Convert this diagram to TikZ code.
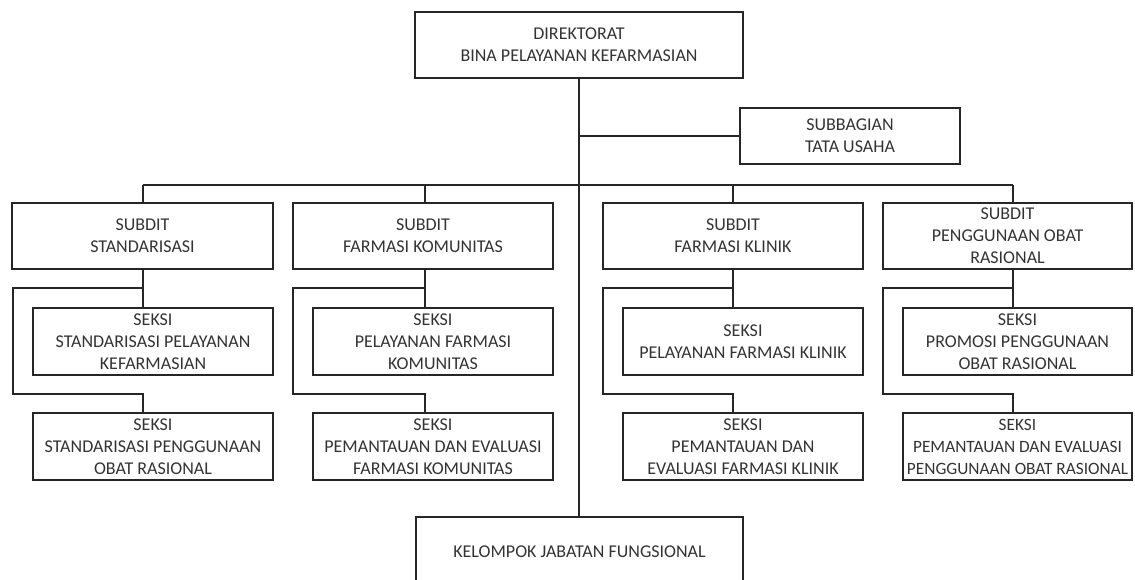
\documentclass[tikz,border=0pt]{standalone}
\usepackage{fontspec}
\setmainfont{Carlito}
\begin{document}
\begin{tikzpicture}[x=1pt,y=-1pt,
  box/.style={draw=black!85,line width=1.3pt,rectangle,inner sep=0pt,align=center,
    text=black!80,font=\fontsize{18}{22}\selectfont},
  conn/.style={draw=black!85,line width=1.3pt}]
\useasboundingbox (0,0) rectangle (1135,579);
\clip (0,0) rectangle (1135,579);
% top
\node[box,minimum width=328pt,minimum height=66pt] (dir) at (579,45) {DIREKTORAT\\BINA PELAYANAN KEFARMASIAN};
\node[box,minimum width=220pt,minimum height=56pt] (sub) at (850,136) {SUBBAGIAN\\TATA USAHA};
\node[box,minimum width=327pt,minimum height=70pt] (kel) at (579.5,552) {KELOMPOK JABATAN FUNGSIONAL};
% subdits
\node[box,minimum width=261pt,minimum height=66pt] (s1) at (142.5,236) {SUBDIT\\STANDARISASI};
\node[box,minimum width=260pt,minimum height=66pt] (s2) at (423,236) {SUBDIT\\FARMASI KOMUNITAS};
\node[box,minimum width=260pt,minimum height=66pt] (s3) at (733,236) {SUBDIT\\FARMASI KLINIK};
\node[box,minimum width=249pt,minimum height=66pt] (s4) at (1007.5,236) {SUBDIT\\PENGGUNAAN OBAT\\RASIONAL};
% seksi a
\node[box,minimum width=240pt,minimum height=67pt] (k1a) at (153,341.5) {SEKSI\\STANDARISASI PELAYANAN\\KEFARMASIAN};
\node[box,minimum width=240pt,minimum height=67pt] (k2a) at (433,341.5) {SEKSI\\PELAYANAN FARMASI\\KOMUNITAS};
\node[box,minimum width=240pt,minimum height=67pt] (k3a) at (743,341.5) {SEKSI\\PELAYANAN FARMASI KLINIK};
\node[box,minimum width=229pt,minimum height=67pt] (k4a) at (1017.5,341.5) {SEKSI\\PROMOSI PENGGUNAAN\\OBAT RASIONAL};
% seksi b
\node[box,minimum width=240pt,minimum height=67pt] (k1b) at (153,446.5) {SEKSI\\STANDARISASI PENGGUNAAN\\OBAT RASIONAL};
\node[box,minimum width=240pt,minimum height=67pt] (k2b) at (433,446.5) {SEKSI\\PEMANTAUAN DAN EVALUASI\\FARMASI KOMUNITAS};
\node[box,minimum width=240pt,minimum height=67pt] (k3b) at (743,446.5) {SEKSI\\PEMANTAUAN DAN\\EVALUASI FARMASI KLINIK};
\node[box,minimum width=229pt,minimum height=67pt,font=\fontsize{17.3}{22}\selectfont] (k4b) at (1017.5,446.5) {SEKSI\\PEMANTAUAN DAN EVALUASI\\PENGGUNAAN OBAT RASIONAL};
% trunk
\draw[conn] (dir.south) -- (dir.south |- kel.north);
\draw[conn] (dir.south |- sub.west) -- (sub.west);
% bus
\coordinate (b1) at (143,185);
\coordinate (b2) at (425,185);
\coordinate (b3) at (733,185);
\coordinate (b4) at (1013,185);
\draw[conn] (b1) -- (b4);
\draw[conn] (b1) -- (b1 |- s1.north);
\draw[conn] (b2) -- (b2 |- s2.north);
\draw[conn] (b3) -- (b3 |- s3.north);
\draw[conn] (b4) -- (b4 |- s4.north);
% branches
\coordinate (v1) at (143,288); \coordinate (l1) at (13,288); \coordinate (m1) at (13,394);
\coordinate (v2) at (425,288); \coordinate (l2) at (293,288); \coordinate (m2) at (293,394);
\coordinate (v3) at (733,288); \coordinate (l3) at (603,288); \coordinate (m3) at (603,394);
\coordinate (v4) at (1013,288); \coordinate (l4) at (883,288); \coordinate (m4) at (883,394);
\draw[conn] (v1 |- s1.south) -- (v1 |- k1a.north);
\draw[conn] (v1) -- (l1) -- (m1) -- (m1 -| v1) -- (v1 |- k1b.north);
\draw[conn] (v2 |- s2.south) -- (v2 |- k2a.north);
\draw[conn] (v2) -- (l2) -- (m2) -- (m2 -| v2) -- (v2 |- k2b.north);
\draw[conn] (v3 |- s3.south) -- (v3 |- k3a.north);
\draw[conn] (v3) -- (l3) -- (m3) -- (m3 -| v3) -- (v3 |- k3b.north);
\draw[conn] (v4 |- s4.south) -- (v4 |- k4a.north);
\draw[conn] (v4) -- (l4) -- (m4) -- (m4 -| v4) -- (v4 |- k4b.north);
\end{tikzpicture}
\end{document}
